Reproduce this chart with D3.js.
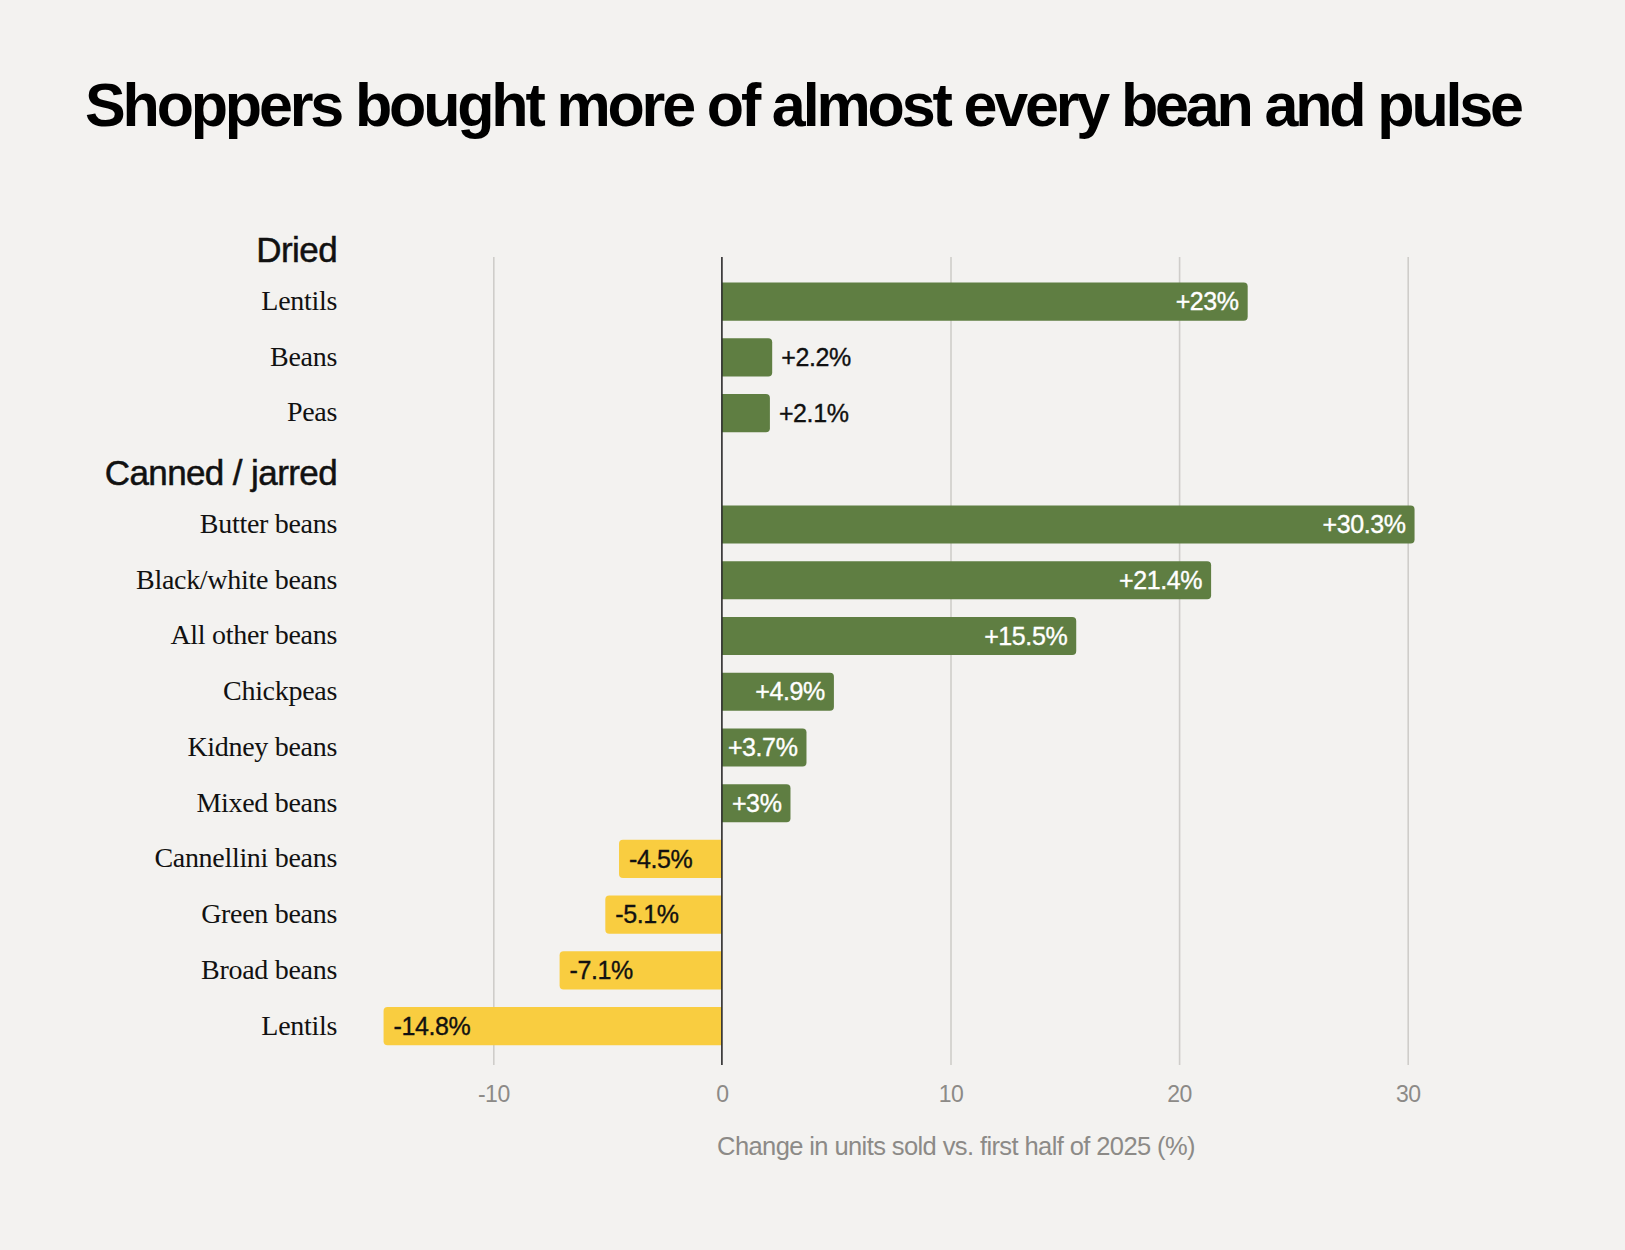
<!DOCTYPE html>
<html>
<head>
<meta charset="utf-8">
<script src="https://cdn.jsdelivr.net/npm/d3@7"></script>
<style>
  html, body { margin: 0; padding: 0; background: #f3f2f0; }
  svg { display: block; }
</style>
</head>
<body>
<svg id="chart" width="1625" height="1250"></svg>
<script>
// ---- Data ----
const titleText = "Shoppers bought more of almost every bean and pulse";
const groupNames = ["Dried", "Canned / jarred"];
const driedCategories = ["Lentils", "Beans", "Peas"];
const driedValues = [23, 2.2, 2.1];
const cannedCategories = ["Butter beans", "Black/white beans", "All other beans", "Chickpeas",
  "Kidney beans", "Mixed beans", "Cannellini beans", "Green beans", "Broad beans", "Lentils"];
const cannedValues = [30.3, 21.4, 15.5, 4.9, 3.7, 3, -4.5, -5.1, -7.1, -14.8];
const xTicks = [-10, 0, 10, 20, 30];
const xDomain = [-15, 35];
const axisTitle = "Change in units sold vs. first half of 2025 (%)";

// ---- Build rows ----
const rows = [];
rows.push({ key: "h0", header: true, label: groupNames[0] });
driedCategories.forEach((c, i) => rows.push({ key: "d" + i, label: c, value: driedValues[i] }));
rows.push({ key: "h1", header: true, label: groupNames[1] });
cannedCategories.forEach((c, i) => rows.push({ key: "c" + i, label: c, value: cannedValues[i] }));

const svg = d3.select("#chart");
const W = 1625, H = 1250;
svg.append("rect").attr("width", W).attr("height", H).attr("fill", "#f3f2f0");

const GREEN = "#5f7e42", YELLOW = "#f9cd40";
const gridTop = 257, gridBottom = 1065;
const SANS = "Liberation Sans, Arial, sans-serif";
const SERIF = "Liberation Serif, Times New Roman, serif";

const x = d3.scaleLinear().domain(xDomain).range([379, 1522]);
const y = d3.scaleBand().domain(rows.map(r => r.key))
  .range([218, 1054]).paddingInner(0.316).paddingOuter(0.158);

// Title
svg.append("text")
  .attr("x", 85).attr("y", 126)
  .attr("font-family", SANS)
  .attr("font-weight", 700)
  .attr("font-size", 61)
  .attr("fill", "#000")
  .attr("textLength", 1439)
  .attr("lengthAdjust", "spacing")
  .text(titleText);

// Grid / axis
const axis = d3.axisBottom(x).tickValues(xTicks)
  .tickSizeInner(-(gridBottom - gridTop)).tickSizeOuter(0).tickPadding(21)
  .tickFormat(d => String(d));
const gAxis = svg.append("g").attr("transform", `translate(0,${gridBottom})`).call(axis);
gAxis.select(".domain").remove();
gAxis.selectAll(".tick line").attr("stroke", "#cfcdca").attr("stroke-width", 1.6)
  .attr("opacity", d => d === 0 ? 0 : 1);
gAxis.selectAll(".tick text")
  .attr("font-family", SANS)
  .attr("font-size", 23)
  .attr("letter-spacing", -0.5)
  .attr("fill", "#8c8a87");

// Axis title
svg.append("text")
  .attr("x", 956).attr("y", 1155)
  .attr("text-anchor", "middle")
  .attr("font-family", SANS)
  .attr("font-size", 25.5)
  .attr("letter-spacing", -0.6)
  .attr("fill", "#8c8a87")
  .text(axisTitle);

// Bars
const r = 4;
function barPath(v, key) {
  const y0 = y(key), h = y.bandwidth();
  const x0 = x(0), x1 = x(v);
  const s = v >= 0 ? -1 : 1;
  return `M${x0},${y0} H${x1 + s * r} Q${x1},${y0} ${x1},${y0 + r} V${y0 + h - r} Q${x1},${y0 + h} ${x1 + s * r},${y0 + h} H${x0} Z`;
}
const dataRows = rows.filter(d => !d.header);
svg.append("g").selectAll("path").data(dataRows).join("path")
  .attr("d", d => barPath(d.value, d.key))
  .attr("fill", d => d.value >= 0 ? GREEN : YELLOW);

// Zero line
svg.append("line")
  .attr("x1", x(0)).attr("x2", x(0)).attr("y1", gridTop).attr("y2", gridBottom)
  .attr("stroke", "#2b2b2b").attr("stroke-width", 1.6);

// Category labels
const labelX = 337;
svg.append("g").selectAll("text").data(rows).join("text")
  .attr("x", labelX)
  .attr("y", d => y(d.key) + y.bandwidth() / 2)
  .attr("dy", d => d.header ? "0.45em" : "0.3em")
  .attr("text-anchor", "end")
  .attr("font-family", d => d.header ? SANS : SERIF)
  .attr("font-size", d => d.header ? 35 : 28)
  .attr("letter-spacing", d => d.header ? -0.6 : -0.3)
  .attr("fill", "#111")
  .attr("stroke", d => d.header ? "#111" : "none")
  .attr("stroke-width", d => d.header ? 0.5 : 0)
  .text(d => d.label);

// Value labels
const fmt = v => (v > 0 ? "+" : "") + v + "%";
const pad = 9;
const vl = svg.append("g").selectAll("text").data(dataRows).join("text")
  .attr("y", d => y(d.key) + y.bandwidth() / 2)
  .attr("dy", "0.35em")
  .attr("font-family", SANS)
  .attr("font-size", 25)
  .attr("letter-spacing", -0.4)
  .text(d => fmt(d.value));
vl.each(function(d) {
  const t = d3.select(this);
  const w = this.getComputedTextLength();
  const barW = Math.abs(x(d.value) - x(0));
  let fill;
  if (d.value >= 0) {
    if (w + 2 * pad - 4 <= barW) {
      t.attr("x", x(d.value) - pad).attr("text-anchor", "end");
      fill = "#fff";
    } else {
      t.attr("x", x(d.value) + pad).attr("text-anchor", "start");
      fill = "#111";
    }
  } else {
    t.attr("x", x(d.value) + pad + 1).attr("text-anchor", "start");
    fill = "#111";
  }
  t.attr("fill", fill).attr("stroke", fill).attr("stroke-width", 0.35);
});
</script>
</body>
</html>
